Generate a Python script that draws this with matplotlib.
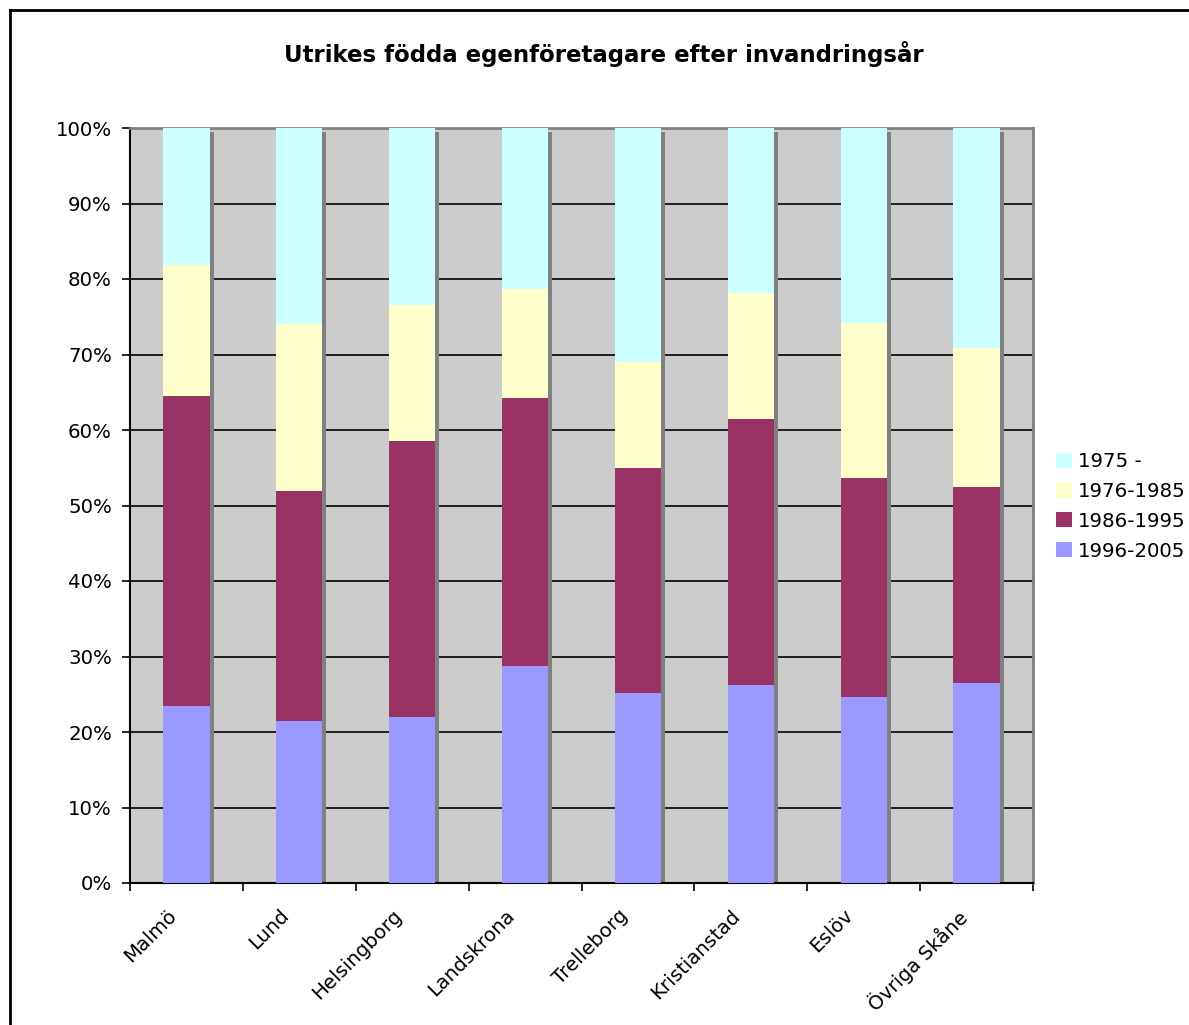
import matplotlib
matplotlib.use("Agg")
import matplotlib.pyplot as plt
import matplotlib.transforms as mtransforms
from matplotlib.lines import Line2D
from matplotlib.patches import Patch
import numpy as np

plt.rcParams['font.family'] = ['DejaVu Sans']

categories = ["Malmö", "Lund", "Helsingborg", "Landskrona", "Trelleborg",
              "Kristianstad", "Eslöv", "Övriga Skåne"]
s_1996_2005 = [23.5, 21.4, 22.0, 28.8, 25.1, 26.2, 24.6, 26.5]
s_1986_1995 = [41.0, 30.5, 36.5, 35.5, 29.9, 35.2, 29.0, 26.0]
s_1976_1985 = [17.4, 22.1, 18.0, 14.4, 14.0, 16.8, 20.6, 18.3]
s_1975 = [round(100 - a - b - c, 1) for a, b, c in zip(s_1996_2005, s_1986_1995, s_1976_1985)]

series = [("1996-2005", s_1996_2005, "#9999FF"),
          ("1986-1995", s_1986_1995, "#993366"),
          ("1976-1985", s_1976_1985, "#FFFFCC"),
          ("1975 -", s_1975, "#CCFFFF")]

W, H = 1189, 1025
fig = plt.figure(figsize=(W / 100, H / 100), dpi=100)
ax = fig.add_axes([130 / W, 1 - 883 / H, 903 / W, 755 / H])
ax.set_facecolor("#CCCCCC")

x = np.arange(len(categories))
width = 0.41
# shadows
sx = 4 / 113.0
ax.bar(x + sx, [99.5] * len(x), width, color="#808080", zorder=2, linewidth=0)
bottom = np.zeros(len(x))
for name, vals, col in series:
    ax.bar(x, vals, width, bottom=bottom, color=col, zorder=3, linewidth=0)
    bottom += np.array(vals)

FS = 14.2
ax.set_xlim(-0.5, len(x) - 0.5)
ax.set_ylim(0, 100)
ax.set_yticks(np.arange(0, 101, 10))
ax.set_yticklabels([f"{v}%" for v in range(0, 101, 10)], fontsize=FS)
ax.yaxis.grid(True, color="#000000", linewidth=1.2, zorder=1)
ax.set_axisbelow(True)

ax.set_xticks(np.arange(-0.5, len(x), 1.0))
ax.set_xticklabels([])
ax.tick_params(axis="x", which="major", length=6, width=1.2, direction="out")
ax.tick_params(axis="y", length=6, width=1.2, direction="out", pad=7)

# category labels (rotated, anchored at top-right corner)
blend = mtransforms.blended_transform_factory(ax.transData, ax.transAxes)
offset = mtransforms.ScaledTranslation(-20 / 100, -23 / 100, fig.dpi_scale_trans)
for i, cat in enumerate(categories):
    ax.text(x[i], 0, cat, transform=blend + offset, rotation=45, ha="right", va="top",
            rotation_mode="anchor", fontsize=FS, clip_on=False)

for side in ["top", "right"]:
    ax.spines[side].set_color("#808080")
    ax.spines[side].set_linewidth(2)
for side in ["left", "bottom"]:
    ax.spines[side].set_color("#000000")
    ax.spines[side].set_linewidth(1.5)

fig.text(604 / W, 1 - 54 / H, "Utrikes födda egenföretagare efter invandringsår",
         ha="center", va="center", fontsize=16.5, fontweight="bold")

handles = [Patch(facecolor=col, edgecolor="none", label=name)
           for name, vals, col in reversed(series)]
fig.legend(handles=handles, loc="upper left", bbox_to_anchor=(1056 / W, 1 - 452 / H),
           frameon=False, fontsize=FS, handlelength=0.8, handleheight=0.8,
           handletextpad=0.3, labelspacing=0.55, borderpad=0, borderaxespad=0)

# figure border (left and top)
fig.add_artist(Line2D([10 / W, 10 / W], [0, 1 - 10 / H], transform=fig.transFigure,
                      color="black", linewidth=2))
fig.add_artist(Line2D([10 / W, 1], [1 - 10 / H, 1 - 10 / H], transform=fig.transFigure,
                      color="black", linewidth=2))

fig.savefig("out.png", dpi=100, facecolor="white")
